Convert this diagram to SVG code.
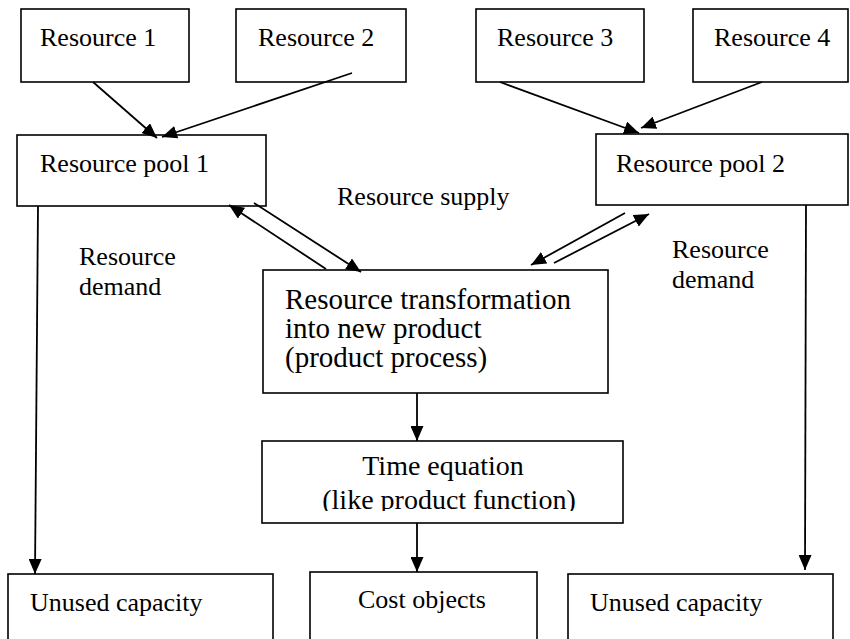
<svg xmlns="http://www.w3.org/2000/svg" width="850" height="639" viewBox="0 0 850 639">
<style>
.box{fill:#fff;stroke:#000;stroke-width:1.6}
.t{font-family:"Liberation Serif","Times New Roman",serif;font-size:26px;fill:#000}
.tb{font-family:"Liberation Serif","Times New Roman",serif;font-size:29px;fill:#000}
.tm{font-family:"Liberation Serif","Times New Roman",serif;font-size:28px;fill:#000}
.c{fill:none;stroke:#000;stroke-width:1.8;marker-end:url(#ah)}
</style>
<defs>
<marker id="ah" viewBox="0 0 15 13" refX="15" refY="6.5" markerWidth="15" markerHeight="13" markerUnits="userSpaceOnUse" orient="auto">
<path d="M0,0 L15,6.5 L0,13 z" fill="#000"/>
</marker>
<clipPath id="clipTE"><rect x="262" y="441" width="361" height="70"/></clipPath>
</defs>
<rect width="850" height="639" fill="#fff"/>
<g id="resource1"><rect class="box" x="21" y="9" width="168" height="73"/><text class="t" x="40" y="46">Resource 1</text></g>
<g id="resource2"><rect class="box" x="236" y="9" width="170" height="73"/><text class="t" x="258" y="46">Resource 2</text></g>
<g id="resource3"><rect class="box" x="476" y="9" width="168" height="73"/><text class="t" x="497" y="46">Resource 3</text></g>
<g id="resource4"><rect class="box" x="693" y="9" width="155" height="73"/><text class="t" x="714" y="46">Resource 4</text></g>
<g id="pool1"><rect class="box" x="17" y="135" width="249" height="71"/><text class="t" x="40" y="172">Resource pool 1</text></g>
<g id="pool2"><rect class="box" x="596" y="134" width="252" height="71"/><text class="t" x="616" y="172">Resource pool 2</text></g>
<g id="transformation"><rect class="box" x="263" y="270" width="345" height="123"/>
<text class="tb" x="285" y="309">Resource transformation</text>
<text class="tb" x="285" y="338">into new product</text>
<text class="tb" x="285" y="367">(product process)</text></g>
<g id="timeEquation"><rect class="box" x="262" y="441" width="361" height="82"/>
<g clip-path="url(#clipTE)"><text class="tm" x="443" y="475" text-anchor="middle">Time equation</text>
<text class="tm" x="449" y="509" text-anchor="middle">(like product function)</text></g></g>
<g id="unused1"><rect class="box" x="8" y="574" width="265" height="80"/><text class="t" x="30" y="611">Unused capacity</text></g>
<g id="costObjects"><rect class="box" x="310" y="572" width="227" height="80"/><text class="t" x="358" y="608">Cost objects</text></g>
<g id="unused2"><rect class="box" x="568" y="574" width="265" height="80"/><text class="t" x="590" y="611">Unused capacity</text></g>
<g id="labels">
<text class="t" x="337" y="205">Resource supply</text>
<text class="t" x="79" y="265">Resource</text>
<text class="t" x="79" y="295">demand</text>
<text class="t" x="672" y="258">Resource</text>
<text class="t" x="672" y="288">demand</text>
</g>
<g id="connectors">
<line class="c" x1="93" y1="82" x2="157" y2="138"/>
<line class="c" x1="352" y1="73" x2="162" y2="137"/>
<line class="c" x1="500" y1="82" x2="639" y2="133"/>
<line class="c" x1="762" y1="82" x2="641" y2="128"/>
<line class="c" x1="326" y1="269" x2="229" y2="205"/>
<line class="c" x1="254" y1="203" x2="361" y2="272"/>
<line class="c" x1="625" y1="213" x2="531" y2="265"/>
<line class="c" x1="554" y1="263" x2="649" y2="214"/>
<line class="c" x1="38" y1="206" x2="35" y2="574"/>
<line class="c" x1="806" y1="205" x2="805" y2="570"/>
<line class="c" x1="417" y1="393" x2="417" y2="441"/>
<line class="c" x1="417" y1="523" x2="417" y2="572"/>
</g>
</svg>
